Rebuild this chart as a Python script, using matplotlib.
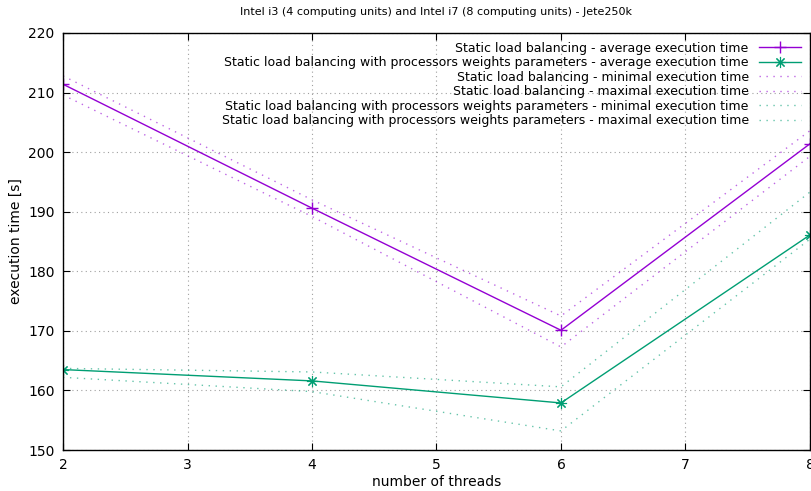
import matplotlib
matplotlib.use('Agg')
from matplotlib import pyplot as plt

threads = [2, 4, 6, 8]

# static load balancing
static_avg = [211.4, 190.6, 170.1, 201.4]
static_min = [209.6, 189.2, 167.3, 199.3]
static_max = [212.8, 192.0, 172.5, 203.6]

# static load balancing with processors weights parameters
weights_avg = [163.5, 161.6, 157.9, 186.1]
weights_min = [162.2, 159.8, 153.2, 185.4]
weights_max = [163.7, 163.1, 160.6, 193.3]

purple = '#9400d3'
green = '#009e73'
dots = (0, (1, 4))

fig = plt.figure(figsize=(8.11, 4.91), dpi=100)
ax = fig.add_axes([0.0777, 0.0835, 0.921, 0.8493])

ax.plot(threads, static_avg, c=purple, lw=1, marker='+', ms=8, mew=1,
        label='Static load balancing - average execution time')
ax.plot(threads, weights_avg, c=green, lw=1, marker=(8, 2, 0), ms=8, mew=0.8,
        label='Static load balancing with processors weights parameters - average execution time')
ax.plot(threads, static_min, c=purple, lw=1, ls=dots, alpha=0.6,
        label='Static load balancing - minimal execution time')
ax.plot(threads, static_max, c=purple, lw=1, ls=dots, alpha=0.6,
        label='Static load balancing - maximal execution time')
ax.plot(threads, weights_min, c=green, lw=1, ls=dots, alpha=0.6,
        label='Static load balancing with processors weights parameters - minimal execution time')
ax.plot(threads, weights_max, c=green, lw=1, ls=dots, alpha=0.6,
        label='Static load balancing with processors weights parameters - maximal execution time')

ax.set_xlim(2, 8)
ax.set_ylim(150, 220)
ax.set_xticks(range(2, 9))
ax.set_yticks(range(150, 221, 10))
ax.grid(True, color='#a0a0a0', ls=(0, (1, 3)), lw=0.8)
ax.tick_params(direction='in', top=True, right=True, length=5, labelsize=10, pad=6)
for s in ax.spines.values():
    s.set_linewidth(1)

ax.set_xlabel('number of threads', fontsize=10, labelpad=2)
ax.set_ylabel('execution time [s]', fontsize=10, labelpad=4)
ax.set_title('Intel i3 (4 computing units) and Intel i7 (8 computing units) - Jete250k',
             fontsize=8, pad=13)

leg = ax.legend(loc='upper right', markerfirst=False, frameon=False, fontsize=9,
                handlelength=3.4, labelspacing=0.12, borderaxespad=0.3, handletextpad=0.8,
                bbox_to_anchor=(1.0, 1.0))
for t in leg.get_texts():
    t.set_ha('right')
leg._legend_box.align = 'right'

fig.savefig('out.png', dpi=100)
